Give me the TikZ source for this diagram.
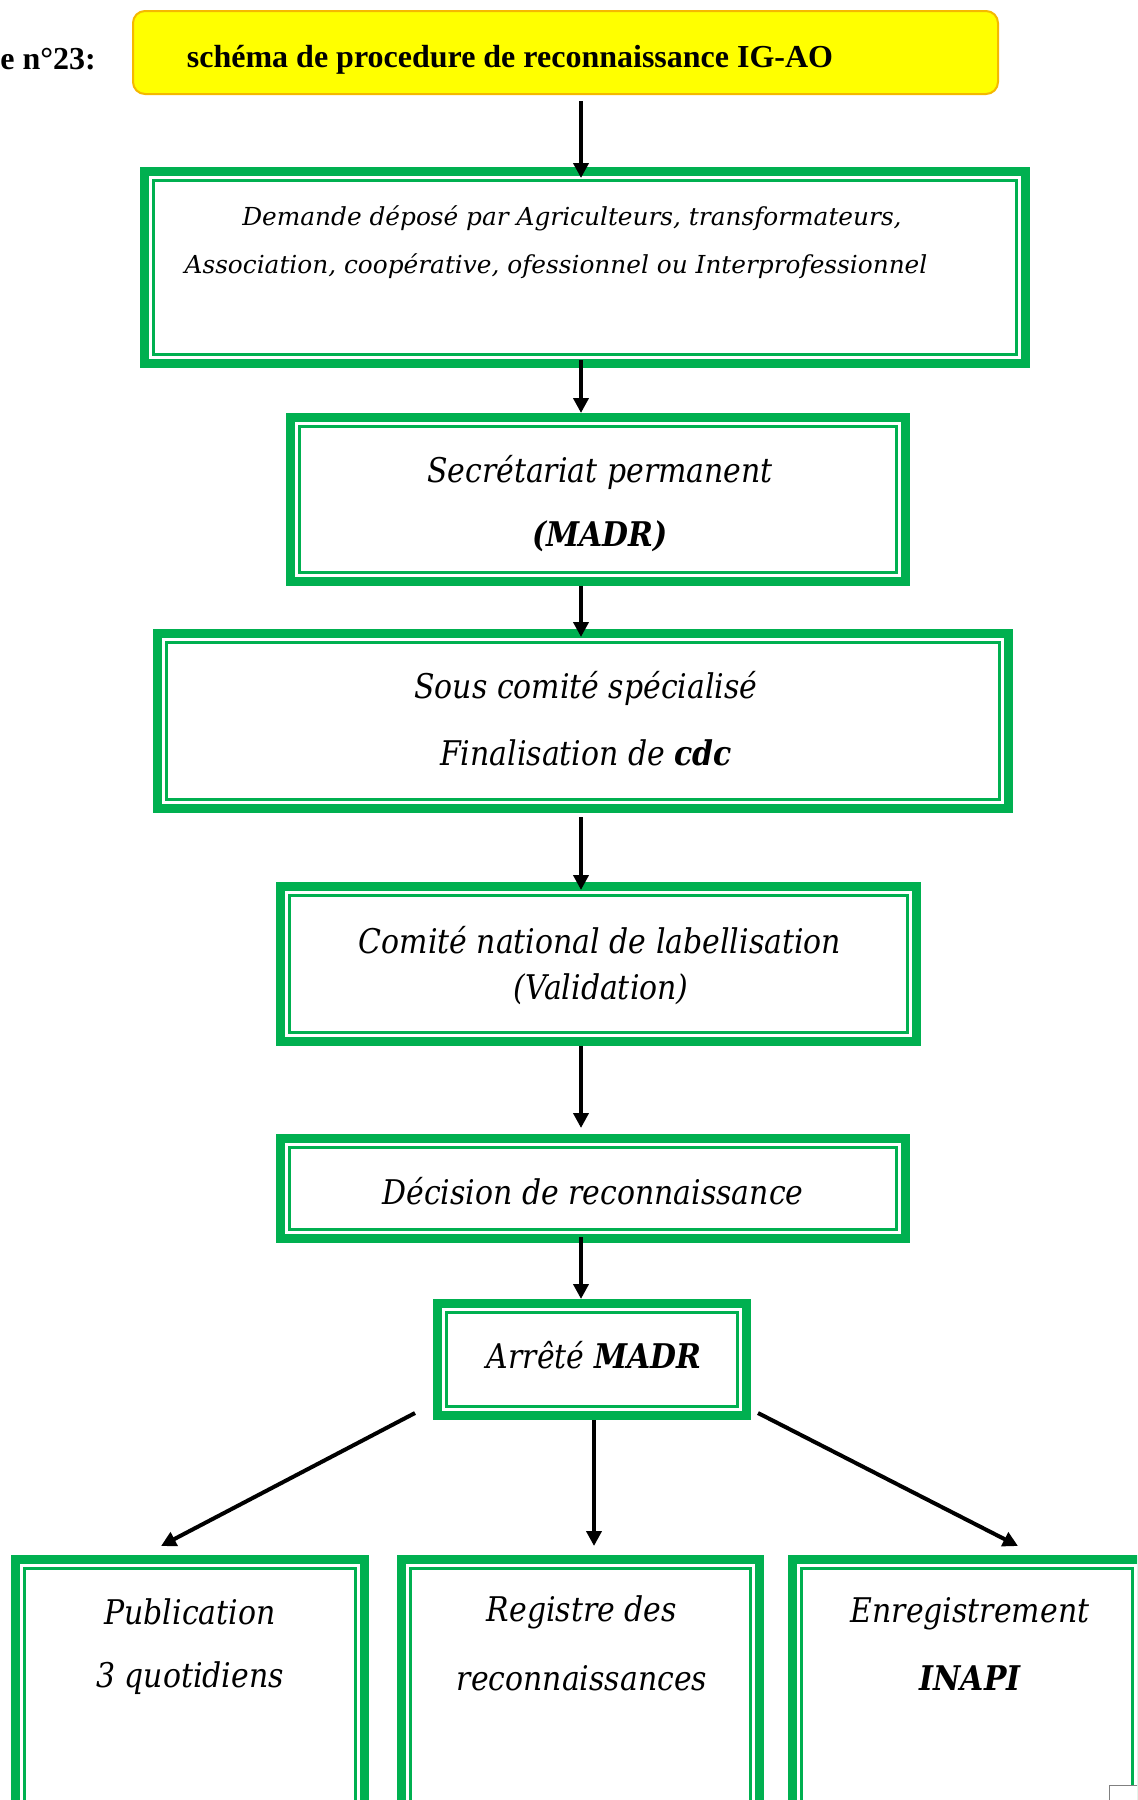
\documentclass[tikz,border=0pt]{standalone}
\usepackage{fontspec}
\setmainfont{Liberation Serif}
\newfontfamily\dvs{DejaVu Serif}
\newfontfamily\camf[FakeStretch=0.88]{DejaVu Serif}
\usetikzlibrary{arrows.meta,calc}
\definecolor{gr}{HTML}{00B050}
\definecolor{ylw}{HTML}{FFFF00}
\definecolor{org}{HTML}{F5B800}
\tikzset{
 gframe/.style={draw=gr, line width=4.5pt, inner sep=0pt, fill=white},
 ginner/.style={draw=gr, line width=1.5pt},
 arr/.style={line width=2pt, -{Triangle[length=7.5pt,width=7.5pt]}},
 cam/.style={font=\camf\itshape\fontsize{17}{20}\selectfont, inner sep=0pt},
 bkm/.style={font=\dvs\itshape\fontsize{12.4}{15}\selectfont, inner sep=0pt},
 ttlfont/.style={font=\bfseries\fontsize{16}{19}\selectfont, inner sep=0pt},
}
\newcommand{\gbox}[5]{%
 \node[gframe, minimum width={(#4-#2-9)*0.5pt}, minimum height={(#5-#3-9)*0.5pt}] (#1) at ({(#2+#4)/2},{(#3+#5)/2}) {};
 \draw[ginner] ([shift={(6.75pt,-6.75pt)}]#1.north west) rectangle ([shift={(-6.75pt,6.75pt)}]#1.south east);
}
\begin{document}
\begin{tikzpicture}[x=0.5pt,y=-0.5pt]
\useasboundingbox (0,0) rectangle (1137,1800);
\clip (0,0) rectangle (1137,1800);
\fill[white] (0,0) rectangle (1137,1800);
% title
\node[ttlfont, anchor=west] (fig) at (0,59) {e n°23:};
\node[draw=org, fill=ylw, rounded corners=6pt, line width=1pt, minimum width={(998-133)*0.5pt}, minimum height={(94-11)*0.5pt}] (title) at ({(133+998)/2},{(11+94)/2}) {};
\node[ttlfont] (ttl) at (510,59.5) {schéma de procedure de reconnaissance IG-AO};
% boxes
\gbox{b1}{140}{167}{1030}{368}
\node[bkm] (b1a) at (572,218) {Demande déposé par Agriculteurs, transformateurs,};
\node[bkm] (b1b) at (556,266) {Association, coopérative, ofessionnel ou Interprofessionnel};
\gbox{b2}{286}{413}{910}{586}
\node[cam] (b2a) at (600,472) {Secrétariat permanent};
\node[cam] (b2b) at (600,536) {\bfseries(MADR)};
\gbox{b3}{153}{629}{1013}{813}
\node[cam] (b3a) at (586,688) {Sous comité spécialisé};
\node[cam] (b3b) at (586,753) {Finalisation de \textbf{cdc}};
\gbox{b4}{276}{882}{921}{1046}
\node[cam] (b4a) at (600,940) {Comité national de labellisation};
\node[cam] (b4b) at (601,989) {(Validation)};
\gbox{b5}{276}{1134}{910}{1243}
\node[cam] (b5a) at (593,1191) {Décision de reconnaissance};
\gbox{b6}{433}{1299}{751}{1420}
\node[cam] (b6a) at (594,1355) {Arrêté \textbf{MADR}};
\gbox{pub}{11}{1555}{369}{1830}
\node[cam] (puba) at (190,1612) {Publication};
\node[cam] (pubb) at (190,1678) {3 quotidiens};
\gbox{reg}{397}{1555}{764}{1830}
\node[cam] (rega) at (582,1612) {Registre des};
\node[cam] (regb) at (582,1678) {reconnaissances};
\gbox{ena}{788}{1555}{1146}{1830}
\node[cam] (enaa) at (970,1614) {Enregistrement};
\node[cam] (enab) at (970,1678) {\bfseries INAPI};
\draw[gray, line width=0.5pt, fill=white] (1109,1785) rectangle (1150,1810);
% arrows
\coordinate (ax) at (581,0);
\coordinate (ax2) at (594,0);
\draw[arr, shorten <=3pt, shorten >=-5.5pt] (title.south -| ax) -- (b1.north -| ax);
\draw[arr, shorten <=-4pt] (b1.south -| ax) -- (b2.north -| ax);
\draw[arr, shorten >=-4pt] (b2.south -| ax) -- (b3.north -| ax);
\draw[arr, shorten <=2pt, shorten >=-4pt] (b3.south -| ax) -- (b4.north -| ax);
\draw[arr, shorten >=3pt] (b4.south -| ax) -- (b5.north -| ax);
\draw[arr, shorten <=-3pt] (b5.south -| ax) -- (b6.north -| ax);
\draw[arr, shorten >=4.5pt] (b6.south -| ax2) -- (reg.north -| ax2);
\coordinate (l0) at ($(b6.south west)+(-18,-7)$);
\coordinate (l1) at ($(pub.north)+(-29,-9)$);
\coordinate (r0) at ($(b6.south east)+(7,-7)$);
\coordinate (r1) at ($(ena.north)+(51,-9)$);
\draw[arr] (l0) -- (l1);
\draw[arr] (r0) -- (r1);
\end{tikzpicture}
\end{document}
